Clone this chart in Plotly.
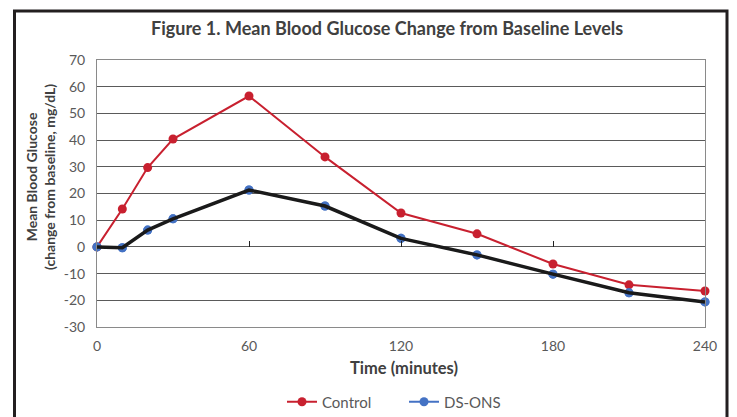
import plotly.graph_objects as go

# ---- data ----
time_min = [0, 10, 20, 30, 60, 90, 120, 150, 180, 210, 240]
control = [0, 14.2, 29.7, 40.4, 56.5, 33.7, 12.7, 4.9, -6.4, -14.2, -16.5]
ds_ons = [0, -0.3, 6.3, 10.5, 21.3, 15.3, 3.2, -3.0, -10.2, -17.2, -20.6]
x_ticks = [0, 60, 120, 180, 240]
y_ticks = list(range(-30, 71, 10))

title_text = "Figure 1. Mean Blood Glucose Change from Baseline Levels"
y_title = "Mean Blood Glucose<br>(change from baseline, mg/dL)"
x_title = "Time (minutes)"

# ---- layout geometry (pixels, in the page; figure div sits at 8px offset) ----
OFF = 8
W, H = 737 - OFF, 417 - OFF
L, R, T, B = 97 - OFF, 32, 60 - OFF, 90
pw, ph = W - L - R, H - T - B

def px(x):
    return (x - OFF - L) / pw

def py(y):
    return (H - B - (y - OFF)) / ph

RED = "#C8202F"
BLUE = "#4472C4"
BLACK = "#1a1a1a"
GRID = "#5a5a5a"
TXT = "#595959"
FONT = "Lato"

fig = go.Figure()

fig.add_trace(go.Scatter(
    x=time_min, y=control, name="Control", mode="lines+markers",
    line=dict(color=RED, width=2), marker=dict(color=RED, size=9),
    cliponaxis=False))
fig.add_trace(go.Scatter(
    x=time_min, y=ds_ons, name="DS-ONS", mode="lines+markers",
    line=dict(color=BLUE, width=2), marker=dict(color=BLUE, size=9),
    cliponaxis=False))
fig.add_trace(go.Scatter(
    x=time_min, y=ds_ons, xaxis="x2", mode="lines", showlegend=False,
    line=dict(color=BLACK, width=3.5), hoverinfo="skip", cliponaxis=False))
fig.add_trace(go.Scatter(
    x=time_min, y=ds_ons, mode="markers", showlegend=False,
    marker=dict(color=BLUE, size=9), cliponaxis=False))

fig.update_layout(
    width=W, height=H,
    margin=dict(l=L, r=R, t=T, b=B, autoexpand=False),
    paper_bgcolor="white", plot_bgcolor="white",
    font=dict(family=FONT, color=TXT, size=14),
    showlegend=True,
    legend=dict(orientation="h", x=px(404), xanchor="center", y=py(402), yanchor="middle",
                font=dict(family=FONT, size=15, color=TXT), itemwidth=30,
                entrywidth=77, entrywidthmode="pixels",
                bgcolor="rgba(0,0,0,0)"),
    xaxis=dict(range=[0, 240], tickvals=x_ticks, ticktext=[str(v) for v in x_ticks],
               showgrid=False, zeroline=False,
               showline=True, linecolor="#8a8a8a", linewidth=1, mirror=True,
               ticks="", ticklabelstandoff=6, automargin=False,
               tickfont=dict(family=FONT, size=14, color=TXT)),
    xaxis2=dict(range=[0, 240], overlaying="x", anchor="free", position=0.3,
                tickvals=x_ticks, showticklabels=False, showgrid=False,
                zeroline=False, showline=False, ticks="inside", ticklen=6,
                tickcolor="#222", tickwidth=1, automargin=False),
    yaxis=dict(range=[-30, 70], tickvals=y_ticks, ticktext=[str(v) for v in y_ticks],
               showgrid=True, gridcolor=GRID,
               gridwidth=1, zeroline=False, showline=True, linecolor="#8a8a8a",
               linewidth=1, mirror=True, ticks="", ticklabelstandoff=8,
               automargin=False,
               tickfont=dict(family=FONT, size=14, color=TXT)),
    annotations=[
        dict(text="<b>" + title_text + "</b>", xref="paper", yref="paper",
             x=px(387), y=py(28), xanchor="center", yanchor="middle",
             showarrow=False, font=dict(family=FONT, size=18, color="#404040")),
        dict(text="<b>" + x_title + "</b>", xref="paper", yref="paper",
             x=px(404), y=py(368), xanchor="center", yanchor="middle",
             showarrow=False, font=dict(family=FONT, size=16.5, color="#404040")),
        dict(text="<b>" + y_title + "</b>", xref="paper", yref="paper",
             x=px(40), y=py(177), xanchor="center", yanchor="middle",
             textangle=-90, showarrow=False,
             font=dict(family=FONT, size=14, color="#404040")),
    ],
    shapes=[dict(type="path", xref="paper", yref="paper",
                 path=f"M {px(14.5)} {py(440)} L {px(14.5)} {py(11)} L {px(727)} {py(11)} L {px(727)} {py(440)}",
                 line=dict(color="#231f20", width=3))],
)

fig.write_html("out.html")
